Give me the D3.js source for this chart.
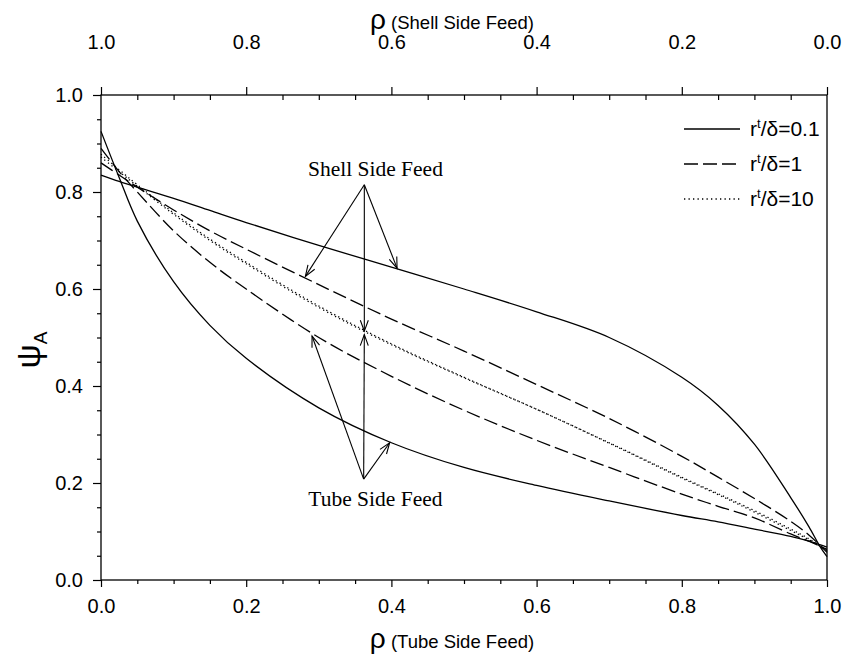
<!DOCTYPE html>
<html>
<head>
<meta charset="utf-8">
<script src="https://cdn.jsdelivr.net/npm/d3@7"></script>
<style>
  body { margin: 0; background: #fff; }
  svg { display: block; }
  .tick text { font-family: "Liberation Sans", Arial, sans-serif; }
</style>
</head>
<body>
<div class="container"></div>
<script>
const w = 845;
const h = 659;

// rho (tube side axis) sample points
const rho = [0, 0.025, 0.05, 0.1, 0.15, 0.2, 0.3, 0.4, 0.5, 0.6, 0.7, 0.8, 0.85, 0.9, 0.95, 0.975, 0.99, 1.0];

// r/delta = 0.1
const solidShell = [0.835, 0.822, 0.81, 0.787, 0.762, 0.737, 0.69, 0.645, 0.600, 0.553, 0.500, 0.418, 0.36, 0.28, 0.17, 0.11, 0.07, 0.048];
const solidTube  = [0.925, 0.83, 0.74, 0.615, 0.525, 0.457, 0.355, 0.283, 0.232, 0.195, 0.163, 0.133, 0.12, 0.105, 0.09, 0.08, 0.073, 0.068];
// r/delta = 1
const dashShell  = [0.86, 0.835, 0.81, 0.763, 0.72, 0.682, 0.609, 0.538, 0.472, 0.403, 0.333, 0.255, 0.212, 0.168, 0.121, 0.093, 0.072, 0.057];
const dashTube   = [0.89, 0.842, 0.80, 0.72, 0.655, 0.60, 0.50, 0.42, 0.35, 0.288, 0.232, 0.177, 0.152, 0.128, 0.095, 0.08, 0.07, 0.063];
// r/delta = 10
const dotShell   = [0.872, 0.842, 0.812, 0.754, 0.70, 0.652, 0.562, 0.485, 0.417, 0.352, 0.283, 0.212, 0.178, 0.143, 0.105, 0.085, 0.07, 0.06];
const dotTube    = [0.878, 0.846, 0.815, 0.757, 0.703, 0.655, 0.565, 0.487, 0.418, 0.352, 0.282, 0.21, 0.176, 0.14, 0.102, 0.083, 0.07, 0.062];

const xTicks = [0, 0.2, 0.4, 0.6, 0.8, 1.0];
const yTicks = [0, 0.2, 0.4, 0.6, 0.8, 1.0];
const legendLabels = ["0.1", "1", "10"];

// annotation arrows, in data units
const shellFrom = [0.3627, 0.815];
const shellTo = [[0.2815, 0.626], [0.4078, 0.643], [0.3627, 0.513]];
const tubeFrom = [0.3618, 0.208];
const tubeTo = [[0.2907, 0.503], [0.3627, 0.506], [0.3976, 0.283]];

const x = d3.scaleLinear().domain([0, 1]).range([101, 827]);
const xTop = d3.scaleLinear().domain([1, 0]).range([101, 827]);
const y = d3.scaleLinear().domain([0, 1]).range([580, 95]);

const svg = d3.select('.container').append('svg')
    .attr('width', w)
    .attr('height', h);

const fmt = d3.format('.1f');
const minor = d3.range(0, 1.0001, 0.05).map(v => +v.toFixed(2)).filter(v => Math.abs(v * 5 - Math.round(v * 5)) > 1e-6);

function styleAxis(g, size) {
  g.select('.domain').remove();
  g.selectAll('.tick line').attr('stroke', '#000').attr('stroke-width', 1.2);
  g.selectAll('.tick text').style('font-size', size + 'px').attr('fill', '#000');
}

// bottom
svg.append('g').attr('transform', `translate(0,${y(0)})`)
    .call(d3.axisBottom(x).tickValues(xTicks).tickFormat(fmt).tickSize(7).tickPadding(12))
    .call(g => styleAxis(g, 20));
svg.append('g').attr('transform', `translate(0,${y(0)})`)
    .call(d3.axisBottom(x).tickValues(minor).tickFormat('').tickSize(4))
    .call(g => styleAxis(g, 20));

// top
svg.append('g').attr('transform', `translate(0,${y(1)})`)
    .call(d3.axisTop(xTop).tickValues(xTicks).tickFormat(fmt).tickSize(8).tickPadding(38))
    .call(g => styleAxis(g, 20));
svg.append('g').attr('transform', `translate(0,${y(1)})`)
    .call(d3.axisBottom(xTop).tickValues(minor).tickFormat('').tickSize(5))
    .call(g => styleAxis(g, 20));

// left
svg.append('g').attr('transform', `translate(${x(0)},0)`)
    .call(d3.axisLeft(y).tickValues(yTicks).tickFormat(fmt).tickSize(8).tickPadding(10))
    .call(g => styleAxis(g, 20));
svg.append('g').attr('transform', `translate(${x(0)},0)`)
    .call(d3.axisLeft(y).tickValues(minor).tickFormat('').tickSize(4))
    .call(g => styleAxis(g, 20));

// frame
svg.append('rect')
    .attr('x', x(0)).attr('y', y(1))
    .attr('width', x(1) - x(0)).attr('height', y(0) - y(1))
    .attr('fill', 'none').attr('stroke', '#000').attr('stroke-width', 1.3);

// curves
const line = d3.line()
    .x(d => x(d[0]))
    .y(d => y(d[1]))
    .curve(d3.curveCatmullRom.alpha(0.5));

const series = [
  { vals: solidShell, dash: null },
  { vals: solidTube, dash: null },
  { vals: dashShell, dash: '14,5' },
  { vals: dashTube, dash: '14,5' },
  { vals: dotShell, dash: '1.3,3.2' },
  { vals: dotTube, dash: '1.3,3.2' }
];

svg.append('g').selectAll('path')
    .data(series)
    .enter()
    .append('path')
      .attr('d', s => line(rho.map((r, i) => [r, s.vals[i]])))
      .attr('fill', 'none')
      .attr('stroke', '#000')
      .attr('stroke-width', 1.3)
      .attr('stroke-dasharray', s => s.dash);

// arrows
svg.append('defs').append('marker')
    .attr('id', 'head')
    .attr('markerUnits', 'userSpaceOnUse')
    .attr('viewBox', '-12 -6 14 12')
    .attr('markerWidth', 14).attr('markerHeight', 12)
    .attr('refX', 0).attr('refY', 0)
    .attr('orient', 'auto')
  .append('path')
    .attr('d', 'M-11,-4 L0,0 L-11,4')
    .attr('fill', 'none')
    .attr('stroke', '#000')
    .attr('stroke-width', 1.1);

const arrows = shellTo.map(t => [shellFrom, t]).concat(tubeTo.map(t => [tubeFrom, t]));
svg.append('g').selectAll('line')
    .data(arrows)
    .enter()
    .append('line')
      .attr('x1', d => x(d[0][0])).attr('y1', d => y(d[0][1]))
      .attr('x2', d => x(d[1][0])).attr('y2', d => y(d[1][1]))
      .attr('stroke', '#000')
      .attr('stroke-width', 1.1)
      .attr('marker-end', 'url(#head)');

const serif = '"Liberation Serif", "Times New Roman", serif';
svg.append('text')
    .attr('x', x(0.378)).attr('y', y(0.834))
    .attr('text-anchor', 'middle')
    .style('font-family', serif)
    .style('font-size', '21.5px')
    .text('Shell Side Feed');

svg.append('text')
    .attr('x', x(0.378)).attr('y', y(0.152))
    .attr('text-anchor', 'middle')
    .style('font-family', serif)
    .style('font-size', '21.5px')
    .text('Tube Side Feed');

// legend
const legend = svg.selectAll('.legend')
    .data(legendLabels)
    .enter()
    .append('g')
      .attr('class', 'legend')
      .attr('transform', (d, i) => `translate(684,${129 + i * 35})`);

legend.append('line')
    .attr('x1', 0).attr('x2', 56)
    .attr('stroke', '#000')
    .attr('stroke-width', 1.3)
    .attr('stroke-dasharray', (d, i) => series[i * 2].dash);

const lt = legend.append('text')
    .attr('x', 66).attr('y', 7)
    .style('font-family', '"Liberation Sans", Arial, sans-serif')
    .style('font-size', '21px');
lt.append('tspan').text('r');
lt.append('tspan').attr('dy', -8).style('font-size', '13px').text('t');
lt.append('tspan').attr('dy', 8).text(d => '/δ=' + d);

// axis titles
const titleFont = '"Liberation Sans", Arial, sans-serif';
const topTitle = svg.append('text')
    .attr('x', 452).attr('y', 29)
    .attr('text-anchor', 'middle')
    .style('font-family', titleFont);
topTitle.append('tspan').style('font-size', '28px').text('ρ');
topTitle.append('tspan').style('font-size', '18.5px').text('  (Shell Side Feed)');

const bottomTitle = svg.append('text')
    .attr('x', 452).attr('y', 648)
    .attr('text-anchor', 'middle')
    .style('font-family', titleFont);
bottomTitle.append('tspan').style('font-size', '28px').text('ρ');
bottomTitle.append('tspan').style('font-size', '18.5px').text('  (Tube Side Feed)');

const yl = svg.append('text')
    .attr('transform', 'translate(40,350) rotate(-90)')
    .attr('text-anchor', 'middle')
    .style('font-family', titleFont);
yl.append('tspan').style('font-size', '34px').text('ψ');
yl.append('tspan').attr('dy', 7).style('font-size', '19px').text('A');
</script>
</body>
</html>
